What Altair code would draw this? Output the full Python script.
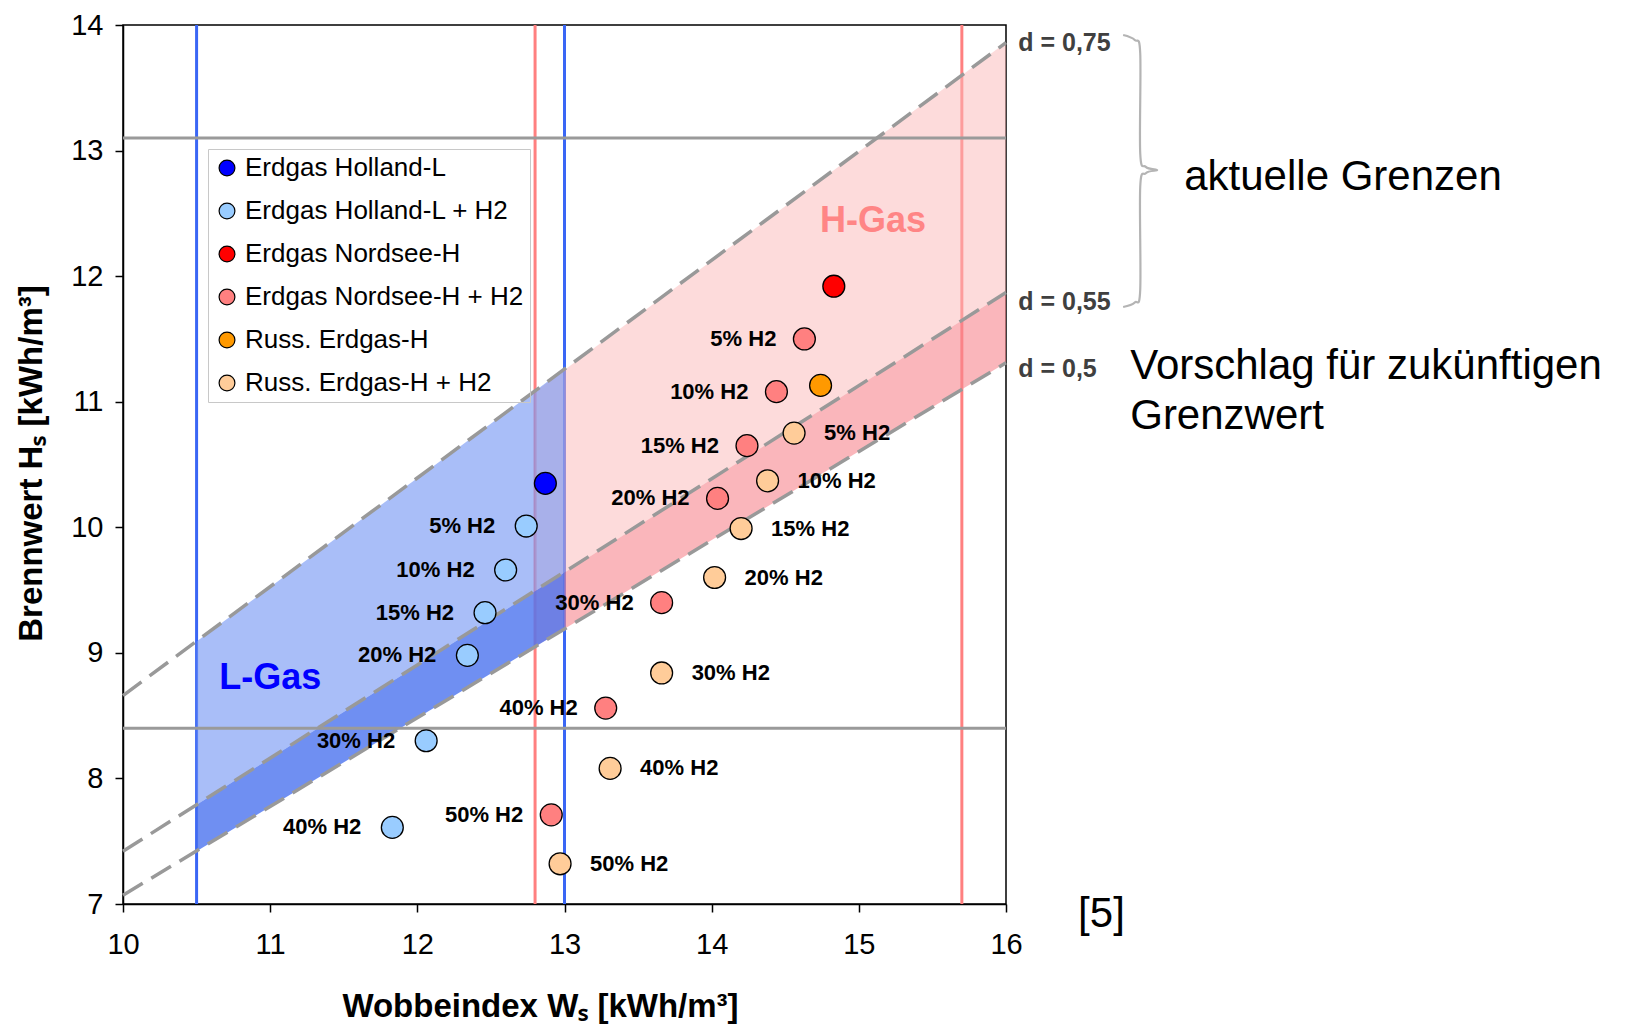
import altair as alt
import pandas as pd

FONT = "Liberation Sans"

# ---------------- data ----------------
series_names = ["Erdgas Holland-L", "Erdgas Holland-L + H2", "Erdgas Nordsee-H",
                "Erdgas Nordsee-H + H2", "Russ. Erdgas-H", "Russ. Erdgas-H + H2"]
series_colors = ["#0000ff", "#99ccff", "#ff0000", "#ff8080", "#ff9900", "#ffcc99"]

holland_W = [12.87]
holland_H = [10.35]
holland_h2_W = [12.74, 12.60, 12.46, 12.34, 12.06, 11.83]
holland_h2_H = [10.01, 9.66, 9.32, 8.98, 8.30, 7.61]
holland_h2_lbl = ["5% H2", "10% H2", "15% H2", "20% H2", "30% H2", "40% H2"]

nordsee_W = [14.83]
nordsee_H = [11.92]
nordsee_h2_W = [14.63, 14.44, 14.24, 14.04, 13.66, 13.28, 12.91]
nordsee_h2_H = [11.50, 11.08, 10.65, 10.23, 9.40, 8.56, 7.71]
nordsee_h2_lbl = ["5% H2", "10% H2", "15% H2", "20% H2", "30% H2", "40% H2", "50% H2"]

russ_W = [14.74]
russ_H = [11.13]
russ_h2_W = [14.56, 14.38, 14.20, 14.02, 13.66, 13.31, 12.97]
russ_h2_H = [10.75, 10.37, 9.99, 9.60, 8.84, 8.08, 7.32]
russ_h2_lbl = ["5% H2", "10% H2", "15% H2", "20% H2", "30% H2", "40% H2", "50% H2"]

# limit lines
l_gas_W = [10.5, 13.0]
h_gas_W = [12.8, 15.7]
h_limits = [8.4, 13.1]

# density lines (H at W=10 and W=16)
d_W = [10.0, 16.0]
d075_H = [8.66, 13.86]
d055_H = [7.42, 11.87]
d05_H = [7.07, 11.31]

# bands
bandL_W = [10.5, 13.0]
bandL_d075 = [9.09, 11.26]
bandL_d055 = [7.79, 9.64]
bandL_d05 = [7.42, 9.19]
bandH_W = [12.8, 16.0]
bandH_d075 = [11.08, 13.86]
bandH_d055 = [9.49, 11.87]
bandH_d05 = [9.05, 11.31]

# brace (annotation outside plot)
brace_W = [16.796, 16.875, 16.912, 16.912, 16.95, 17.027, 16.95, 16.912, 16.912, 16.875, 16.796]
brace_H = [13.92, 13.88, 13.776, 12.98, 12.87, 12.845, 12.82, 12.71, 11.89, 11.79, 11.754]

# ---------------- tables ----------------
pts = pd.concat([
    pd.DataFrame({"W": holland_W, "H": holland_H, "series": series_names[0], "label": ""}),
    pd.DataFrame({"W": holland_h2_W, "H": holland_h2_H, "series": series_names[1], "label": holland_h2_lbl}),
    pd.DataFrame({"W": nordsee_W, "H": nordsee_H, "series": series_names[2], "label": ""}),
    pd.DataFrame({"W": nordsee_h2_W, "H": nordsee_h2_H, "series": series_names[3], "label": nordsee_h2_lbl}),
    pd.DataFrame({"W": russ_W, "H": russ_H, "series": series_names[4], "label": ""}),
    pd.DataFrame({"W": russ_h2_W, "H": russ_h2_H, "series": series_names[5], "label": russ_h2_lbl}),
], ignore_index=True)

X_SCALE = alt.Scale(domain=[10, 16], nice=False, zero=False)
Y_SCALE = alt.Scale(domain=[7, 14], nice=False, zero=False)

X_AXIS = alt.Axis(values=[10, 11, 12, 13, 14, 15, 16], title="Wobbeindex Wₛ [kWh/m³]",
                  labelPadding=18, labelFlush=False, titleX=417, titleY=102,
                  titleBaseline="middle")
Y_AXIS = alt.Axis(values=[7, 8, 9, 10, 11, 12, 13, 14], title="Brennwert Hₛ [kWh/m³]",
                  labelPadding=12, labelFlush=False, titleX=-92, titleY=438,
                  titleBaseline="middle")


def ex(field="W"):
    return alt.X(f"{field}:Q", scale=X_SCALE, axis=X_AXIS)


def ey(field="H"):
    return alt.Y(f"{field}:Q", scale=Y_SCALE, axis=Y_AXIS)


# vertical / horizontal limit rules
vL = alt.Chart(pd.DataFrame({"W": l_gas_W})).mark_rule(color="#3a66f5", strokeWidth=3).encode(x=ex())
vH = alt.Chart(pd.DataFrame({"W": h_gas_W})).mark_rule(color="#ff8080", strokeWidth=3).encode(x=ex())
hR = alt.Chart(pd.DataFrame({"H": h_limits})).mark_rule(color="#9a9a9a", strokeWidth=3).encode(y=ey())

# points
points = alt.Chart(pts).mark_circle(size=480, opacity=1, stroke="black", strokeWidth=1.3).encode(
    x=ex(), y=ey(),
    fill=alt.Fill("series:N", scale=alt.Scale(domain=series_names, range=series_colors),
                  legend=alt.Legend(orient="none", legendX=85, legendY=124, title=None,
                                    direction="vertical",
                                    labelFont=FONT, labelFontSize=26, labelColor="black",
                                    labelLimit=500, symbolType="circle", symbolSize=250,
                                    symbolStrokeColor="black", symbolStrokeWidth=1.2,
                                    symbolOpacity=1, labelOffset=5, rowPadding=17,
                                    padding=6, strokeColor="#c8c8c8")),
)


def band(ws, lo, hi, color, op):
    df = pd.DataFrame({"W": ws, "H": lo, "H2": hi})
    return alt.Chart(df).mark_area(color=color, opacity=op).encode(
        x=ex(), y=ey(), y2=alt.Y2("H2:Q"))


bands = [
    band(bandH_W, bandH_d055, bandH_d075, "#fbb8b8", 0.5),
    band(bandH_W, bandH_d05, bandH_d055, "#f6868d", 0.6),
    band(bandL_W, bandL_d055, bandL_d075, "#7093f3", 0.6),
    band(bandL_W, bandL_d05, bandL_d055, "#4b73ef", 0.8),
]

dline_df = pd.concat([
    pd.DataFrame({"W": d_W, "H": d075_H, "d": "0.75"}),
    pd.DataFrame({"W": d_W, "H": d055_H, "d": "0.55"}),
    pd.DataFrame({"W": d_W, "H": d05_H, "d": "0.5"}),
], ignore_index=True)
dlines = alt.Chart(dline_df).mark_line(color="#999999", strokeWidth=3.5, strokeDash=[23, 10]).encode(
    x=ex(), y=ey(), detail="d:N")


def labels(series, align, dx):
    return alt.Chart(pts[pts.series == series]).mark_text(
        align=align, baseline="middle", dx=dx, font=FONT, fontSize=22, fontWeight="bold",
        color="black").encode(x=ex(), y=ey(), text="label:N")


lbls = [labels(series_names[1], "right", -31), labels(series_names[3], "right", -28),
        labels(series_names[5], "left", 30)]

gas_df = pd.DataFrame({"W": [11.0, 15.096], "H": [8.80, 12.436], "t": ["L-Gas", "H-Gas"],
                       "c": ["L", "H"]})
gas_text = alt.Chart(gas_df).mark_text(font=FONT, fontSize=36, fontWeight="bold",
                                       baseline="middle").encode(
    x=ex(), y=ey(), text="t:N",
    color=alt.Color("c:N", scale=alt.Scale(domain=["L", "H"], range=["#0000ff", "#ff8585"]),
                    legend=None))

d_txt = alt.Chart(pd.DataFrame({"W": [16.083, 16.083, 16.083], "H": [13.859, 11.791, 11.261],
                                "t": ["d = 0,75", "d = 0,55", "d = 0,5"]})).mark_text(
    align="left", baseline="middle", font=FONT, fontSize=25, fontWeight="bold",
    color="#404040").encode(x=ex(), y=ey(), text="t:N")

big_txt = alt.Chart(pd.DataFrame({"W": [17.211, 16.844, 16.844, 16.49],
                                  "H": [12.792, 11.286, 10.889, 6.918],
                                  "t": ["aktuelle Grenzen", "Vorschlag für zukünftigen",
                                        "Grenzwert", "[5]"]})).mark_text(
    align="left", baseline="middle", font=FONT, fontSize=42, color="black").encode(
    x=ex(), y=ey(), text="t:N")

brace = alt.Chart(pd.DataFrame({"W": brace_W, "H": brace_H, "o": list(range(len(brace_W)))})).mark_line(
    color="#b4b4b4", strokeWidth=2.2, interpolate="cardinal").encode(x=ex(), y=ey(), order="o:Q")

chart = alt.layer(vL, vH, *bands, hR, dlines, points, *lbls, gas_text, d_txt, big_txt, brace).properties(
    width=883, height=879,
    autosize=alt.AutoSizeParams(type="none"),
    padding={"left": 115, "top": 17, "right": 615, "bottom": 120},
).configure_view(stroke="black", strokeWidth=1.5).configure_axis(
    grid=False, domainColor="black", domainWidth=1.5, tickColor="black", tickWidth=1.5,
    tickSize=8, labelFont=FONT, labelFontSize=29, labelColor="black",
    titleFont=FONT, titleFontSize=33, titleFontWeight="bold", titleColor="black",
)

chart.save("out.html", embed_options={"renderer": "svg", "actions": False})
